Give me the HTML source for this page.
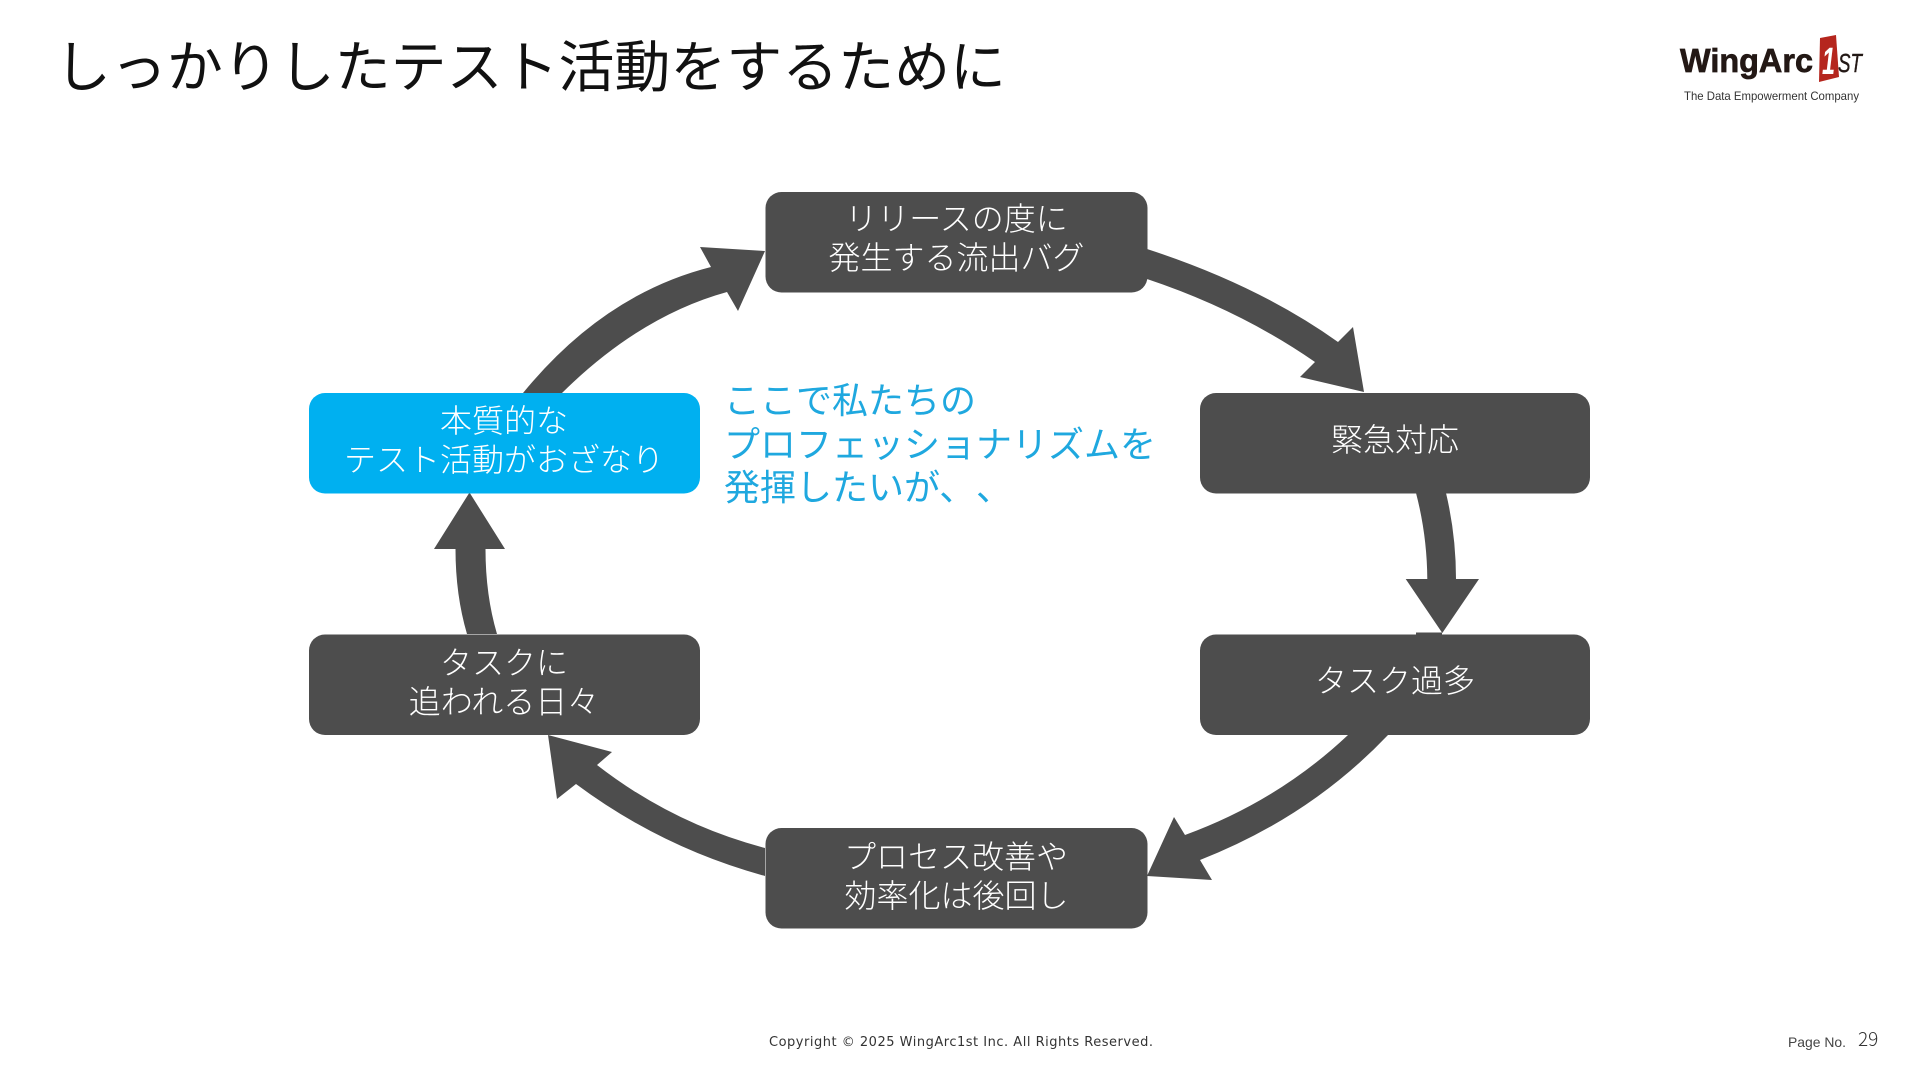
<!DOCTYPE html>
<html lang="ja">
<head>
<meta charset="utf-8">
<title>しっかりしたテスト活動をするために</title>
<style>
html,body{margin:0;padding:0;background:#fff;width:1920px;height:1080px;overflow:hidden}
svg{display:block}
text{font-family:"Liberation Sans","Noto Sans CJK JP",sans-serif;text-spacing-trim:space-all;font-feature-settings:"palt" 0}
.b{font-size:32px;fill:#fff;text-anchor:middle;font-weight:300}
.c{font-size:36px;fill:#1FA8DF;font-weight:400;white-space:pre}
</style>
</head>
<body>
<svg width="1920" height="1080" viewBox="0 0 1920 1080" xmlns="http://www.w3.org/2000/svg">
<rect width="1920" height="1080" fill="#fff"/>
<text x="55" y="87" font-size="56" fill="#111" textLength="951" lengthAdjust="spacingAndGlyphs">しっかりしたテスト活動をするために</text>

<!-- logo -->
<text x="1680" y="72" font-size="33" font-weight="700" fill="#231815" stroke="#231815" stroke-width="0.7" textLength="133" lengthAdjust="spacingAndGlyphs">WingArc</text>
<polygon points="1820,38 1836,35 1839,77 1819,82" fill="#B5261E"/>
<text x="1822" y="74" font-size="38" font-weight="700" font-style="italic" fill="#fff" textLength="13" lengthAdjust="spacingAndGlyphs">1</text>
<text x="1838" y="72" font-size="26" font-style="italic" fill="#231815" stroke="#231815" stroke-width="0.4" textLength="24" lengthAdjust="spacingAndGlyphs">ST</text>
<text x="1684" y="100" font-size="12" fill="#333" textLength="175" lengthAdjust="spacingAndGlyphs">The Data Empowerment Company</text>

<!-- arrows -->
<g fill="#4D4D4D">
<path d="M1147,249 Q1258,285 1338,342 L1353,327 L1364,392 L1300,377 L1315,362 Q1240,310 1147,279 Z"/>
<path d="M1416,493 Q1427,535 1427.3,579 L1405.7,579 L1442.3,633 L1479,579 L1456,579 Q1456,535 1446,493 Z"/>
<rect x="1416" y="632.5" width="26" height="3"/>
<path d="M1348,735 Q1278,801 1185,835 L1174,817 L1147,876 L1212,880 L1200,860 Q1310,817 1388,735 Z"/>
<path d="M765,848 Q673,824 597,765 L612,752 L548,735 L557,799 L576,784 Q662,848 765,876 Z"/>
<path d="M467,634 Q455.5,595 455.5,549 L434,549 L469.5,492.5 L505,549 L485.5,549 Q485.5,595 497,634 Z"/>
<path d="M523,393 Q604,294 711,267 L700,247 L765,251 L738,311 L727,292 Q640,316 562,393 Z"/>
</g>

<!-- boxes -->
<rect x="765.5" y="192" width="382" height="100.5" rx="16" fill="#4D4D4D"/>
<rect x="1200" y="393" width="390" height="100.5" rx="16" fill="#4D4D4D"/>
<rect x="1200" y="634.5" width="390" height="100.5" rx="16" fill="#4D4D4D"/>
<rect x="765.5" y="828" width="382" height="100.5" rx="16" fill="#4D4D4D"/>
<rect x="309" y="634.5" width="391" height="100.5" rx="16" fill="#4D4D4D"/>
<rect x="309" y="393" width="391" height="100.5" rx="16" fill="#00B0F0"/>

<!-- box labels -->
<text class="b" x="956.5" y="230">リリースの度に</text>
<text class="b" x="956.5" y="269">発生する流出バグ</text>
<text class="b" x="1395" y="451">緊急対応</text>
<text class="b" x="1395" y="692">タスク過多</text>
<text class="b" x="956" y="868">プロセス改善や</text>
<text class="b" x="956.5" y="907">効率化は後回し</text>
<text class="b" x="504" y="674">タスクに</text>
<text class="b" x="504" y="713">追われる日々</text>
<text class="b" x="504" y="432">本質的な</text>
<text class="b" x="504" y="471">テスト活動がおざなり</text>

<!-- callout -->
<text class="c" x="724" y="413">ここで私たちの</text>
<text class="c" x="724" y="457">プロフェッショナリズムを</text>
<text class="c" x="724" y="500">発揮したいが、<tspan x="976">、</tspan></text>

<!-- footer -->
<text x="769" y="1046" font-size="13" fill="#333" style="font-family:'DejaVu Sans',sans-serif" textLength="384">Copyright © 2025 WingArc1st Inc.  All Rights Reserved.</text>
<text x="1788" y="1047" font-size="14" fill="#444" textLength="58" lengthAdjust="spacingAndGlyphs">Page No.</text>
<text x="1858" y="1046" font-size="19" fill="#333" style="font-family:'Noto Sans CJK JP',sans-serif;font-weight:300">29</text>
</svg>
</body>
</html>
